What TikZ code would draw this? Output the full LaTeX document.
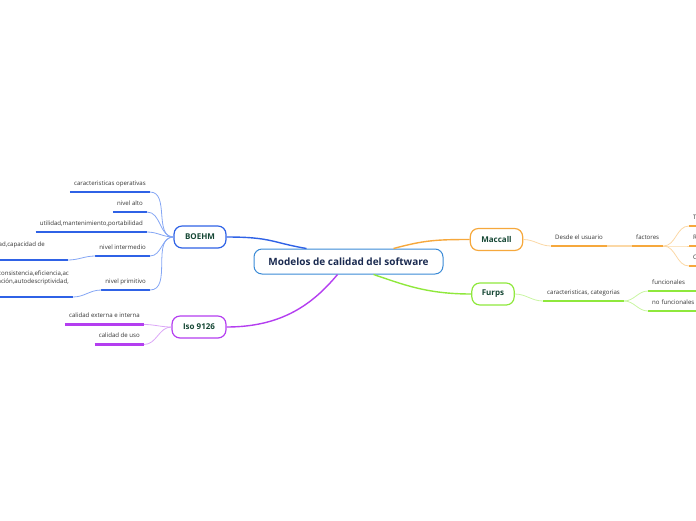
\documentclass[tikz,border=0pt]{standalone}
\usepackage{fontspec}
\setmainfont{Open Sans}
\usepackage{xcolor}
\usetikzlibrary{positioning}
\definecolor{centreline}{HTML}{3A8AD6}
\definecolor{centretext}{HTML}{1A2A50}
\definecolor{topictext}{HTML}{154734}
\definecolor{leaftext}{HTML}{333333}
\definecolor{boehmcol}{HTML}{2F62E6}
\definecolor{boehmlite}{HTML}{84A6F4}
\definecolor{isocol}{HTML}{B43EF0}
\definecolor{isolite}{HTML}{DBA6F7}
\definecolor{maccol}{HTML}{F6A83C}
\definecolor{maclite}{HTML}{FBD8A6}
\definecolor{furpscol}{HTML}{8FE83C}
\definecolor{furpslite}{HTML}{C9F5A2}
\tikzset{
    centre/.style={rectangle, draw=centreline, fill=white, line width=1pt, rounded corners=8pt, minimum width=189pt, minimum height=25pt, text=centretext, font=\bfseries\fontsize{10}{12}\selectfont},
    topic/.style={rectangle, draw, fill=white, line width=1.2pt, rounded corners=8pt, minimum height=22pt, inner xsep=11pt, text=topictext, font=\bfseries\fontsize{8}{9}\selectfont},
    leaf/.style={inner xsep=4pt, inner ysep=0pt, text height=4.5pt, text depth=6.5pt, text=leaftext, font=\fontsize{6.1}{7.5}\selectfont},
    bar/.style={line width=2.4pt},
    link/.style={draw, line width=0.8pt},
    trunk/.style={draw, line width=1.4pt}
}
\begin{document}
\begin{tikzpicture}[x=1pt, y=-1pt]
    \useasboundingbox (0,0) rectangle (696,520);
    % central topic
    \node[centre] (centre) at (348.5,261.5) {Modelos de calidad del software};
    % main topics
    \node[topic, draw=boehmcol] (boehm) at (200,237) {BOEHM};
    \node[topic, draw=isocol] (iso) at (199,327) {Iso 9126};
    \node[topic, draw=maccol] (maccall) at (496.5,239.5) {Maccall};
    \node[topic, draw=furpscol, inner xsep=10pt] (furps) at (493,294) {Furps};

    \draw[trunk, boehmcol] (boehm.east) .. controls +(45,0) and +(-35,-6) .. ([xshift=-42pt]centre.north);
    \draw[trunk, isocol] (iso.east) .. controls +(55,0) and +(-25,30) .. ([xshift=-11pt]centre.south);
    \draw[trunk, maccol] ([xshift=45pt]centre.north) .. controls +(30,-8) and +(-35,0) .. (maccall.west);
    \draw[trunk, furpscol] ([xshift=25pt]centre.south) .. controls +(30,10) and +(-45,0) .. (furps.west);

    % BOEHM
    \node[leaf, anchor=south east] (operativas) at (150,192) {caracteristicas operativas};
    \node[leaf, anchor=south east] (alto) at (147,212) {nivel alto};
    \node[leaf, anchor=south east] (utilidad) at (147,232) {utilidad,mantenimiento,portabilidad};
    \node[leaf, anchor=south east] (intermedio) at (150,256) {nivel intermedio};
    \node[leaf, anchor=south east] (primitivo) at (150,290) {nivel primitivo};
    \node[leaf, anchor=south east, text depth=13.5pt] (capacidad) at (68,260) {fiabilidad,capacidad de\hspace*{19pt}};
    \node[leaf, anchor=south east, align=right, text height=12pt, text depth=13.5pt] (consistencia) at (73,297) {consistencia,eficiencia,ac\\comunicación,autodescriptividad,};
    \foreach \leafname in {operativas,alto,utilidad,intermedio,primitivo,capacidad,consistencia}
        \draw[bar, boehmcol] (\leafname.south west) -- (\leafname.south east);
    \foreach \leafname in {operativas,alto,utilidad,intermedio,primitivo}
        \draw[link, boehmlite] (boehm.west) to[out=180, in=0] (\leafname.south east);
    \draw[link, boehmlite] (intermedio.south west) to[out=180, in=0] (capacidad.south east);
    \draw[link, boehmlite] (primitivo.south west) to[out=180, in=0] (consistencia.south east);

    % Iso 9126
    \node[leaf, anchor=south east] (externa) at (144,324.5) {calidad externa e interna};
    \node[leaf, anchor=south east] (uso) at (144,344.5) {calidad de uso};
    \foreach \leafname in {externa,uso} {
        \draw[bar, isocol] (\leafname.south west) -- (\leafname.south east);
        \draw[link, isolite] (iso.west) to[out=180, in=0] (\leafname.south east);
    }

    % Maccall
    \node[leaf, anchor=south west] (usuario) at (551,246) {Desde el usuario};
    \node[leaf, anchor=south west] (factores) at (632,246) {factores};
    \node[leaf, anchor=south west] (transicion) at (689,226) {Transición del producto};
    \node[leaf, anchor=south west] (revision) at (689,246) {Revisión del producto};
    \node[leaf, anchor=south west] (operacion) at (689,266) {Operación del producto};
    \foreach \leafname in {usuario,factores,transicion,revision,operacion}
        \draw[bar, maccol] (\leafname.south west) -- (\leafname.south east);
    \draw[link, maclite] (maccall.east) to[out=0, in=180] (usuario.south west);
    \draw[bar, maclite] (usuario.south east) -- (factores.south west);
    \foreach \leafname in {transicion,revision,operacion}
        \draw[link, maclite] (factores.south east) to[out=0, in=180] (\leafname.south west);

    % Furps
    \node[leaf, anchor=south west] (categorias) at (543,301) {caracteristicas, categorias};
    \node[leaf, anchor=south west, minimum width=52pt, align=left, text width=46pt] (funcionales) at (648,291) {funcionales};
    \node[leaf, anchor=south west, minimum width=52pt, align=left, text width=46pt] (nofuncionales) at (648,311) {no funcionales};
    \foreach \leafname in {categorias,funcionales,nofuncionales}
        \draw[bar, furpscol] (\leafname.south west) -- (\leafname.south east);
    \draw[link, furpslite] (furps.east) to[out=0, in=180] (categorias.south west);
    \foreach \leafname in {funcionales,nofuncionales}
        \draw[link, furpslite] (categorias.south east) to[out=0, in=180] (\leafname.south west);
\end{tikzpicture}
\end{document}
